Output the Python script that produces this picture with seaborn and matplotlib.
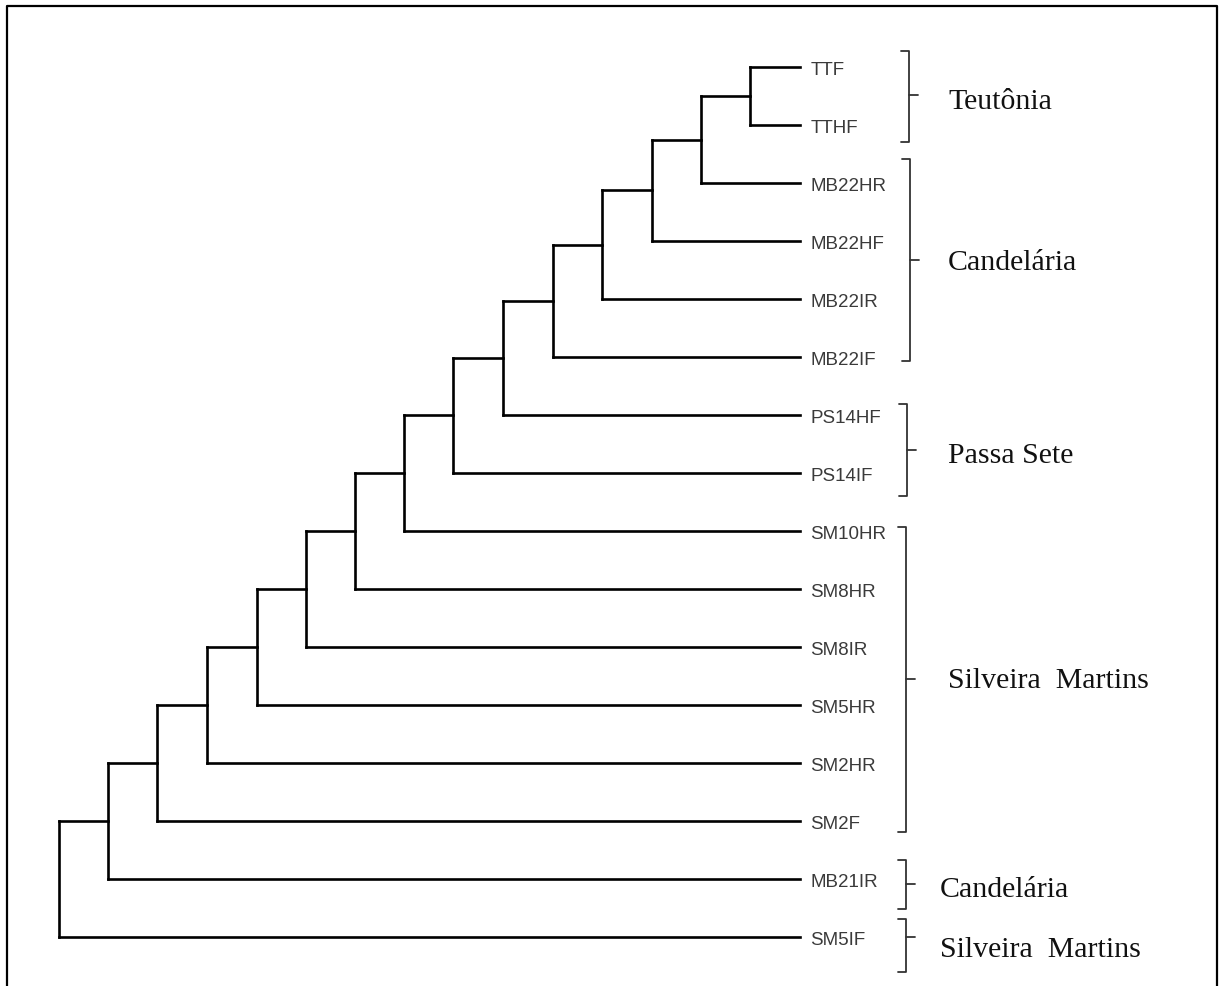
import numpy as np
import pandas as pd
import matplotlib
matplotlib.use("Agg")
import matplotlib.pyplot as plt
import matplotlib.transforms as mtransforms
from matplotlib.lines import Line2D
import seaborn as sns

# ---------------- data ----------------
leaves = ["TTF", "TTHF", "MB22HR", "MB22HF", "MB22IR", "MB22IF", "PS14HF", "PS14IF",
          "SM10HR", "SM8HR", "SM8IR", "SM5HR", "SM2HR", "SM2F", "MB21IR", "SM5IF"]
# height of each successive merge: (TTF,TTHF), then +MB22HR, +MB22HF, ...
merge_heights = [50, 99, 148, 198, 247, 297, 347, 396, 445, 494, 543, 593, 643, 692, 741]

group_names = ["Teutônia", "Candelária", "Passa Sete", "Silveira  Martins",
               "Candelária", "Silveira  Martins"]
group_first = ["TTF", "MB22HR", "PS14HF", "SM10HR", "MB21IR", "SM5IF"]
group_last = ["TTHF", "MB22IF", "PS14IF", "SM2F", "MB21IR", "SM5IF"]

# ---------------- layout (styling) ----------------
# top pad, bottom pad (leaf units), mid fraction, label dy (px), bracket dx (px), label dx (px)
bracket_layout = [
    (0.28, 0.29, 0.49, 13, 109, 39),
    (0.41, 0.07, 0.50, 9, 110, 38),
    (0.19, 0.40, 0.50, 12, 107, 41),
    (0.07, 0.19, 0.50, 8, 106, 42),
    (0.33, 0.52, 0.49, 12, 106, 34),
    (0.31, 0.60, 0.34, 19, 106, 34),
]

W, H, DPI = 1220, 987, 100
sns.set_theme(style="white")
plt.rcParams["font.family"] = ["Liberation Sans", "DejaVu Sans"]

fig = plt.figure(figsize=(W / DPI, H / DPI), dpi=DPI)
fig.patch.set_facecolor("white")
ax_left, ax_right, ax_top, ax_bottom = 59, 800, 68, 938
ax = fig.add_axes([ax_left / W, 1 - ax_bottom / H, (ax_right - ax_left) / W, (ax_bottom - ax_top) / H])
ax.set_facecolor("white")
ax_w_px = ax_right - ax_left

# ---------------- build dendrogram segments ----------------
pos = {name: i for i, name in enumerate(leaves)}
rows = []
seg = 0
cl_y, cl_h = pos[leaves[0]], 0.0
for leaf, h in zip(leaves[1:], merge_heights):
    ly = pos[leaf]
    for xs, ys in (([cl_h, h], [cl_y, cl_y]), ([0, h], [ly, ly]), ([h, h], [cl_y, ly])):
        for x, y in zip(xs, ys):
            rows.append({"seg": seg, "x": x, "y": y})
        seg += 1
    cl_y, cl_h = (cl_y + ly) / 2.0, h
df = pd.DataFrame(rows)

sns.lineplot(data=df, x="x", y="y", units="seg", estimator=None, sort=False,
             color="black", linewidth=1.9, ax=ax, legend=False)
for ln in ax.lines:
    ln.set_clip_on(False)
    ln.set_solid_capstyle("projecting")

ax.set_xlim(merge_heights[-1], 0)
ax.set_ylim(len(leaves) - 1, 0)
ax.set_axis_off()

# leaf labels
for name, i in pos.items():
    ax.annotate(name, xy=(0, i), xytext=(7.5, -2), textcoords="offset points",
                ha="left", va="center", fontsize=13.5, color="#3a3a3a",
                family=["Liberation Sans", "DejaVu Sans"], annotation_clip=False)

# brackets and group labels
blend = mtransforms.blended_transform_factory(ax.transAxes, ax.transData)
for name, first, last, lay in zip(group_names, group_first, group_last, bracket_layout):
    tp, bp, mf, ldy, bdx, ldx = lay
    top = pos[first] - tp
    bot = pos[last] + bp
    mid = top + mf * (bot - top)
    bx = 1 + bdx / ax_w_px
    hook = 8 / ax_w_px
    tick = 9 / ax_w_px
    ax.add_line(Line2D([bx - hook, bx, bx, bx - hook], [top, top, bot, bot],
                       transform=blend, color="#333333", linewidth=1.3, clip_on=False,
                       solid_joinstyle="round"))
    ax.add_line(Line2D([bx, bx + tick], [mid, mid], transform=blend, color="#333333",
                       linewidth=1.3, clip_on=False))
    ax.annotate(name, xy=(bx, mid), xycoords=blend, xytext=(ldx * 0.72, -ldy * 0.72),
                textcoords="offset points", ha="left", va="baseline", fontsize=21.5,
                color="#111111", family=["Liberation Serif", "DejaVu Serif"],
                annotation_clip=False)

# outer frame (left, top, right)
fx0, fx1, fy = 7 / W, 1217 / W, 1 - 7 / H
fig.add_artist(Line2D([fx0, fx0, fx1, fx1], [0, fy, fy, 0], transform=fig.transFigure,
                      color="black", linewidth=1.6))

fig.savefig("out.png", dpi=DPI, facecolor="white")
